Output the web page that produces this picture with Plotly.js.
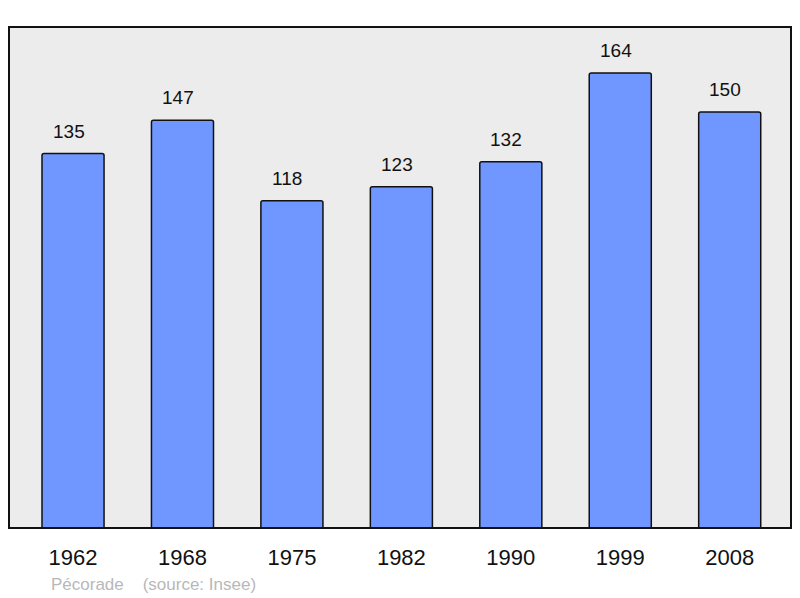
<!DOCTYPE html>
<html>
<head>
<meta charset="utf-8">
<script src="https://cdn.plot.ly/plotly-3.0.1.min.js"></script>
<style>html,body{margin:0;padding:0;background:#fff;}#chart{width:800px;height:598px;}</style>
</head>
<body>
<div id="chart"></div>
<script>
const years = ["1962", "1968", "1975", "1982", "1990", "1999", "2008"];
const population = [135, 147, 118, 123, 132, 164, 150];
const footerText = "Pécorade&nbsp;&nbsp;&nbsp;&nbsp;(source: Insee)";

const trace = {
  type: "bar",
  x: years,
  y: population,
  width: 0.567,
  marker: { color: "#7097ff", line: { color: "#111", width: 1.5 }, cornerradius: 2 },
  hoverinfo: "none"
};

const annotations = years.map((yr, i) => ({
  x: i, y: population[i], xref: "x", yref: "y",
  text: String(population[i]), showarrow: false,
  yanchor: "bottom", yshift: 10, xshift: -4.5,
  font: { family: "Liberation Sans, Arial, sans-serif", size: 19, color: "#111" }
}));
annotations.push({
  x: 0.051, y: -0.112, xref: "paper", yref: "paper",
  xanchor: "left", yanchor: "middle", showarrow: false,
  text: footerText,
  font: { family: "Liberation Sans, Arial, sans-serif", size: 17, color: "#b8b8b8" }
});

const layout = {
  width: 800, height: 598,
  margin: { l: 9, r: 9, t: 27, b: 70, pad: 0 },
  paper_bgcolor: "#ffffff",
  plot_bgcolor: "#ececec",
  showlegend: false,
  xaxis: {
    type: "category", range: [-0.585, 6.56],
    showgrid: false, zeroline: false, showline: false, ticks: "",
    ticklabelstandoff: 14,
    tickfont: { family: "Liberation Sans, Arial, sans-serif", size: 22, color: "#111" }
  },
  yaxis: {
    range: [0, 180.6], showgrid: false, zeroline: false, showticklabels: false, ticks: ""
  },
  shapes: [{
    type: "rect", xref: "paper", yref: "paper", x0: 0, x1: 1, y0: 0, y1: 1,
    line: { color: "#111", width: 2 }, fillcolor: "rgba(0,0,0,0)", layer: "above"
  }],
  annotations: annotations
};

Plotly.newPlot("chart", [trace], layout, { staticPlot: true, displayModeBar: false });
</script>
</body>
</html>
